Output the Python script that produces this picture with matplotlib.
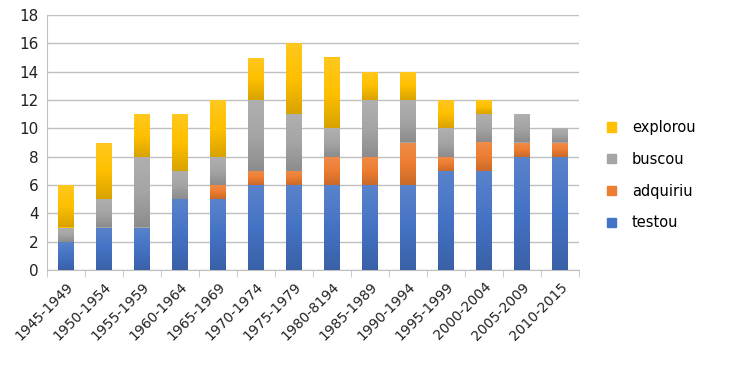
import numpy as np
import matplotlib.pyplot as plt
from matplotlib.colors import LinearSegmentedColormap, to_rgb
from matplotlib.patches import Patch

categories = ['1945-1949', '1950-1954', '1955-1959', '1960-1964', '1965-1969',
              '1970-1974', '1975-1979', '1980-8194', '1985-1989', '1990-1994',
              '1995-1999', '2000-2004', '2005-2009', '2010-2015']
testou   = [2, 3, 3, 5, 5, 6, 6, 6, 6, 6, 7, 7, 8, 8]
adquiriu = [0, 0, 0, 0, 1, 1, 1, 2, 2, 3, 1, 2, 1, 1]
buscou   = [1, 2, 5, 2, 2, 5, 4, 2, 4, 3, 2, 2, 2, 1]
explorou = [3, 4, 3, 4, 4, 3, 5, 5, 2, 2, 2, 1, 0, 0]

series = [('testou', testou, '#4472C4'),
          ('adquiriu', adquiriu, '#ED7D31'),
          ('buscou', buscou, '#A5A5A5'),
          ('explorou', explorou, '#FFC000')]

fig = plt.figure(figsize=(7.29, 3.81), dpi=100)
ax = fig.add_axes([47 / 729, 1 - 270 / 381, (579 - 47) / 729, (270 - 15) / 381])

x = np.arange(len(categories))
bottom = np.zeros(len(categories))
grad = np.linspace(0, 1, 100).reshape(-1, 1)


def shade(c, f):
    r, g, b = to_rgb(c)
    if f > 1:
        return tuple(v + (1 - v) * (f - 1) for v in (r, g, b))
    return tuple(v * f for v in (r, g, b))


for name, vals, col in series:
    bars = ax.bar(x, vals, 0.4, bottom=bottom, color=col, zorder=3, linewidth=0)
    cmap = LinearSegmentedColormap.from_list(name, [shade(col, 0.85), col, shade(col, 1.12)])
    for b in bars:
        if b.get_height() <= 0:
            continue
        x0, y0 = b.get_x(), b.get_y()
        im = ax.imshow(grad, extent=(x0, x0 + b.get_width(), y0, y0 + b.get_height()),
                       origin='lower', cmap=cmap, aspect='auto', zorder=4)
        im.set_clip_path(b)
    bottom += np.array(vals)

ax.set_xlim(-0.5, len(categories) - 0.5)
ax.set_ylim(0, 18)
ax.set_yticks(range(0, 19, 2))
ax.yaxis.grid(True, color='#BFBFBF', linewidth=1, zorder=0)
ax.set_axisbelow(True)
for s in ['top', 'right']:
    ax.spines[s].set_visible(False)
ax.spines['left'].set_color('#BFBFBF')
ax.spines['bottom'].set_color('#BFBFBF')
ax.tick_params(axis='y', length=0, labelsize=11, colors='#222222', pad=6)

ax.set_xticks(x)
ax.set_xticklabels(categories, rotation=45, ha='right', rotation_mode='anchor',
                   fontsize=10, color='#222222')
ax.tick_params(axis='x', length=0, pad=7)
ax.set_xticks(np.arange(-0.5, len(categories), 1), minor=True)
ax.tick_params(axis='x', which='minor', length=5, color='#BFBFBF')

handles = [Patch(color=c, label=n) for n, v, c in series][::-1]
fig.legend(handles=handles, loc='center left', bbox_to_anchor=(0.815, 0.54),
           frameon=False, fontsize=10.5, handlelength=0.6, handleheight=0.6,
           labelspacing=1.15, handletextpad=1.1)

fig.savefig('out.png', dpi=100)
